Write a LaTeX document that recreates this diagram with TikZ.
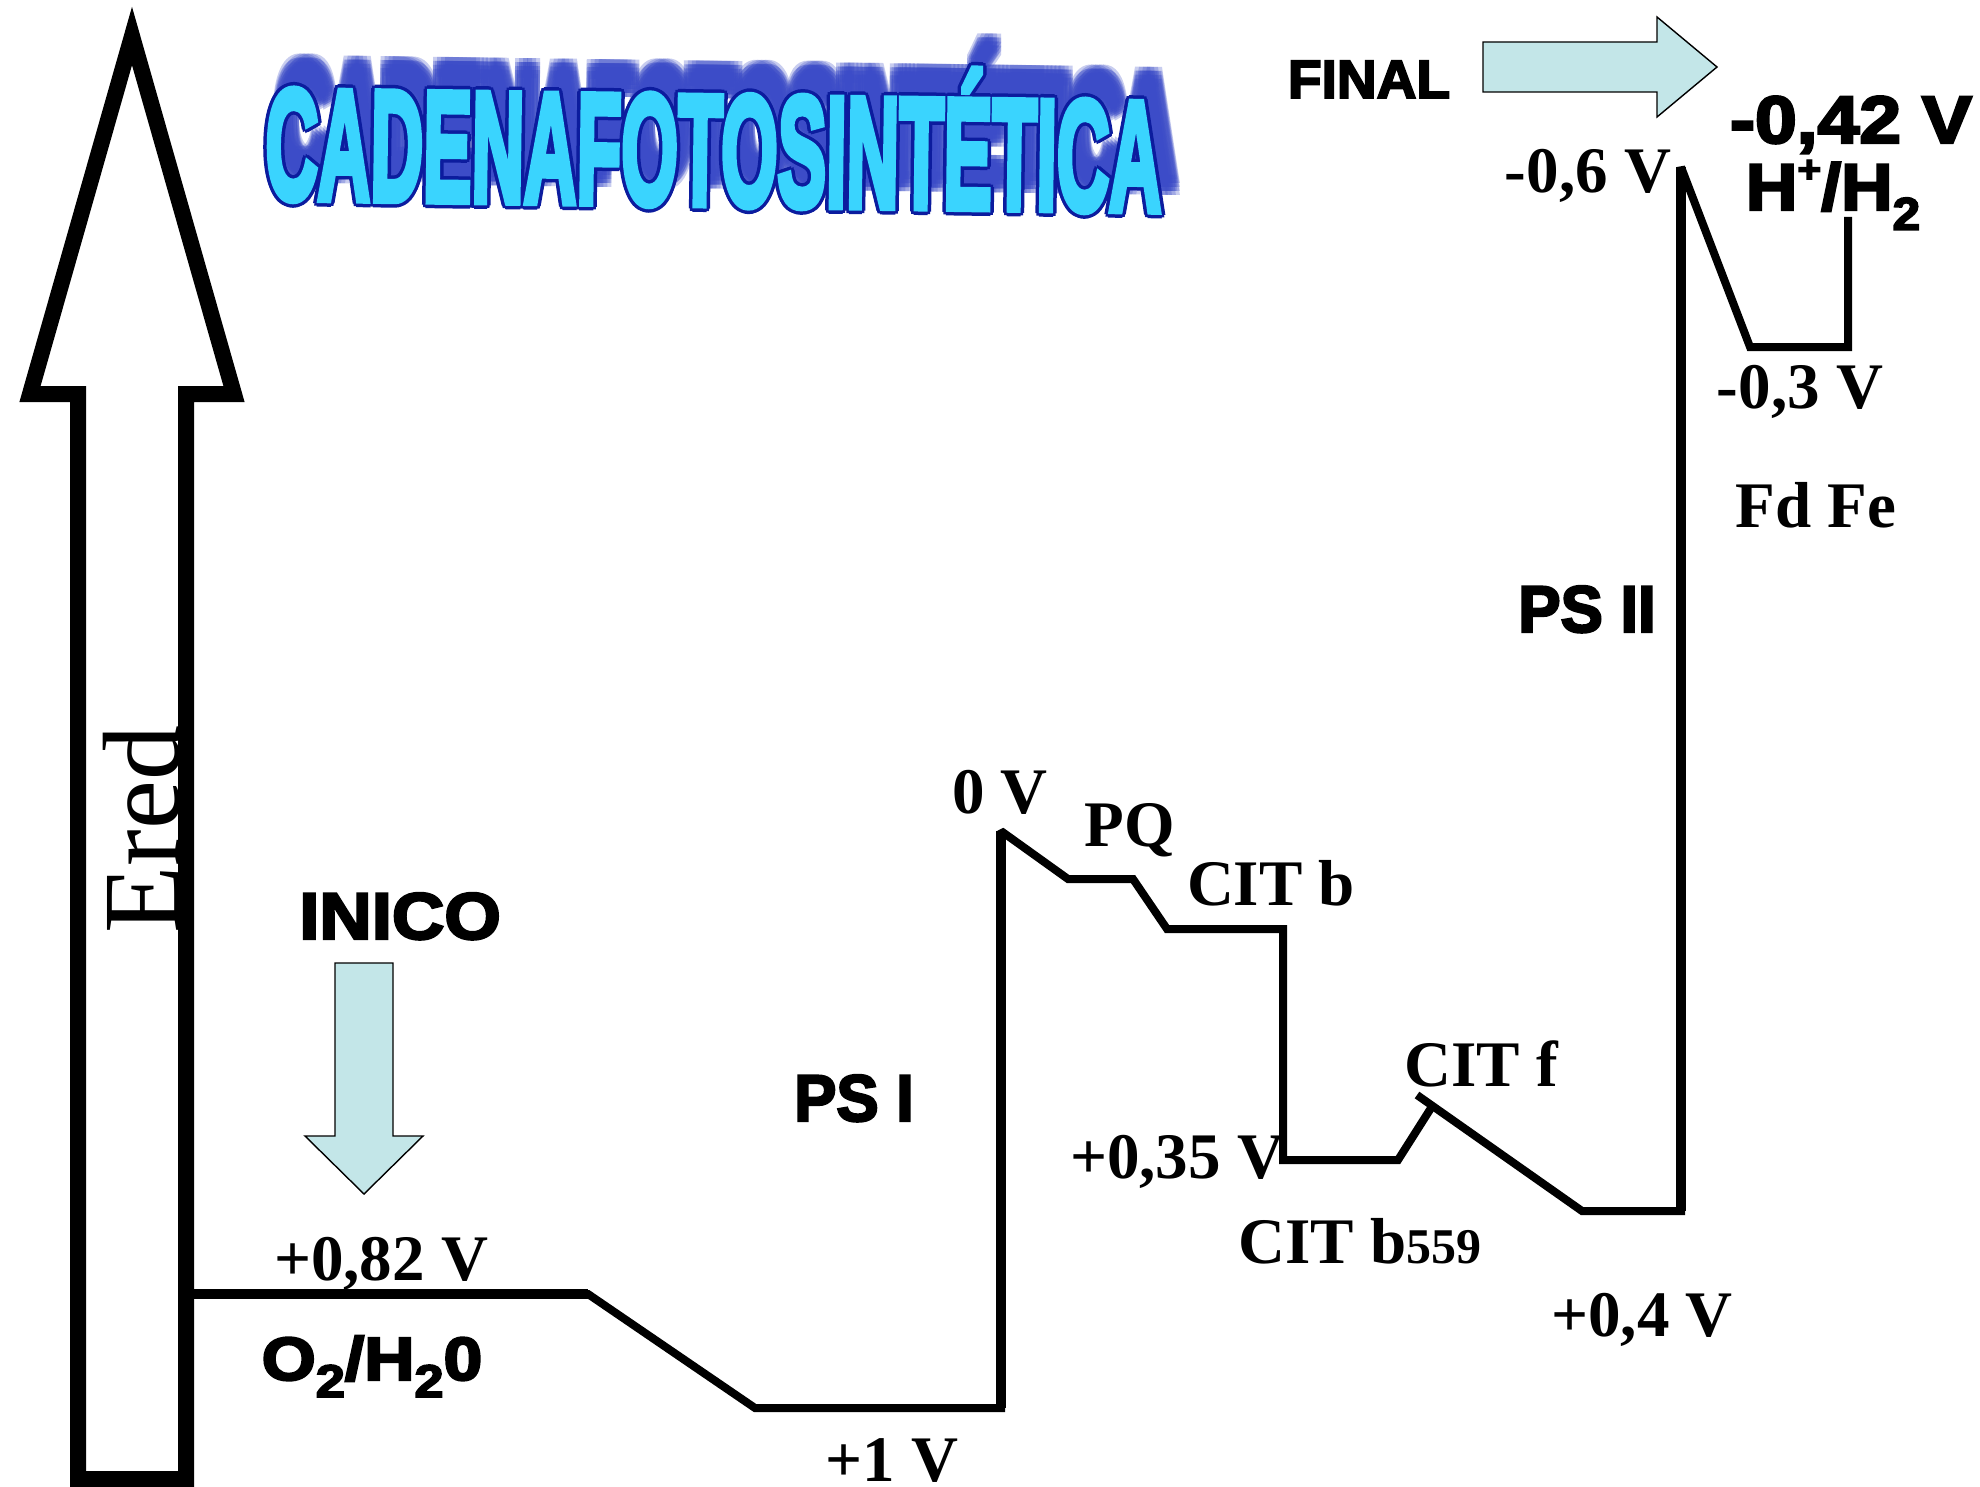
\documentclass[tikz,border=0pt]{standalone}
\usepackage{graphicx}
\usepackage{fontspec}
\setmainfont{Liberation Serif}
\newfontfamily\hsans[FakeBold=3.5]{Liberation Sans Bold}
\newfontfamily\tsans[FakeBold=5]{Liberation Sans Bold}
\definecolor{titlefill}{RGB}{58,212,254}
\definecolor{titleedge}{RGB}{12,28,158}
\definecolor{titleshadow}{RGB}{60,76,200}
\definecolor{arrowfill}{RGB}{195,230,232}
\newcommand{\hv}[3]{{\hsans\fontsize{#1}{#1}\selectfont\scalebox{#2}[1]{#3}}}
\newcommand{\ttl}{{\tsans\fontsize{70}{70}\selectfont\scalebox{0.52}[1.12]{CADENAFOTOSINTÉTICA}}}
\begin{document}
\begin{tikzpicture}[x=0.5pt,y=-0.5pt,
  serif/.style={font=\bfseries\fontsize{32.5}{32.5}\selectfont, inner sep=0pt, anchor=base},
  heavy/.style={inner sep=0pt, anchor=base},
  lvl/.style={line width=4pt, line join=miter, miter limit=2},
  thickv/.style={line width=5pt},
  bluearrow/.style={fill=arrowfill, draw=black, line width=0.7pt, line join=miter}]
\useasboundingbox (0,0) rectangle (1980,1487);
\fill[white] (0,0) rectangle (1980,1487);

% big Ered arrow
\draw[line width=8pt, line join=miter, fill=white]
  (78,1479) -- (78,394) -- (30,394) -- (132,36) -- (234,394) -- (186,394) -- (186,1479) -- cycle;
\node[rotate=90, anchor=base west, inner sep=0pt, font=\fontsize{55}{55}\selectfont] (ered) at (179,934) {Ered};

% title: blurred shadow, outline, fill
\foreach \dx in {-6,-2,2,6}{\foreach \dy in {-6,-2,2,6}{
  \node[text=titleshadow, opacity=0.28, rotate=-0.8, inner sep=0pt] at (726+\dx,110+\dy) {\ttl};}}
\foreach \a in {0,45,...,315}{
  \node[text=titleedge, rotate=-0.8, inner sep=0pt] at ({714+3.5*cos(\a)},{136+3.5*sin(\a)}) {\ttl};}
\node[text=titlefill, rotate=-0.8, inner sep=0pt] (title) at (714,136) {\ttl};

% energy levels
\coordinate (o2a) at (194,1294);
\coordinate (o2b) at (588,1294);
\coordinate (p1a) at (755,1408);
\coordinate (p1b) at (1001,1408);
\coordinate (p1top) at (1001,831);
\coordinate (pqa) at (1068,879);
\coordinate (pqb) at (1133,879);
\coordinate (cba) at (1167,929);
\coordinate (cbb) at (1283,929);
\coordinate (bxa) at (1283,1160);
\coordinate (bxb) at (1398,1160);
\coordinate (bxc) at (1431,1108);
\coordinate (cfa) at (1417,1095);
\coordinate (cfb) at (1582,1211);
\coordinate (p2a) at (1681,1211);
\coordinate (p2top) at (1681,167);
\coordinate (fda) at (1750,347);
\coordinate (fdb) at (1848,347);
\coordinate (fdc) at (1848,217);

\draw[lvl] (o2a) -- (o2b) -- (p1a) -- (p1b) -- (p1top) -- (pqa) -- (pqb) -- (cba) -- (cbb) -- (bxa) -- (bxb) -- (bxc);
\draw[lvl] (cfa) -- (cfb) -- (p2a) -- (p2top) -- (fda) -- (fdb) -- (fdc);
\draw[thickv] (p1b) -- (p1top);
\draw[thickv] (p2a) -- (p2top);
\draw[line width=5pt] (o2a) -- (o2b);

% INICO / FINAL arrows
\draw[bluearrow] (335,963) -- (393,963) -- (393,1136) -- (423,1136) -- (364,1194) -- (305,1136) -- (335,1136) -- cycle;
\draw[bluearrow] (1483,42) -- (1657,42) -- (1657,17) -- (1717,67) -- (1657,117) -- (1657,92) -- (1483,92) -- cycle;

% heavy sans labels
\node[heavy] (final) at (1369,98) {\hv{27}{1.02}{FINAL}};
\node[heavy] (inico) at (400,939) {\hv{33}{1.1}{INICO}};
\node[heavy] (psI) at (854,1121) {\hv{33}{0.96}{PS I}};
\node[heavy] (psII) at (1587,632) {\hv{33}{0.96}{PS II}};
\node[heavy] (o2) at (372,1380) {\hv{30.5}{1.14}{O\raisebox{-0.28em}{\fontsize{23}{23}\selectfont 2}/H\raisebox{-0.28em}{\fontsize{23}{23}\selectfont 2}0}};
\node[heavy] (m042) at (1851,143) {\hv{33.5}{1.12}{-0,42 V}};
\node[heavy] (hh) at (1833,210) {\hv{33}{1.08}{H\raisebox{0.42em}{\fontsize{19}{19}\selectfont +}/H\raisebox{-0.3em}{\fontsize{23}{23}\selectfont 2}}};

% serif labels
\node[serif] (v082) at (381,1280) {+0,82 V};
\node[serif] (v1) at (892,1481) {+1 V};
\node[serif] (v0) at (1000,813) {0 V};
\node[serif] (pq) at (1130,846) {PQ};
\node[serif] (citb) at (1271,905) {CIT b};
\node[serif] (v035) at (1177,1178) {+0,35 V};
\node[serif] (citb559) at (1360,1263) {CIT b{\fontsize{25}{25}\selectfont 559}};
\node[serif] (citf) at (1481,1086) {CIT f};
\node[serif] (v04) at (1642,1336) {+0,4 V};
\node[serif] (v06) at (1588,193) {-0,6 V};
\node[serif] (v03) at (1800,408) {-0,3 V};
\node[serif] (fdfe) at (1816,527) {Fd Fe};
\end{tikzpicture}
\end{document}
